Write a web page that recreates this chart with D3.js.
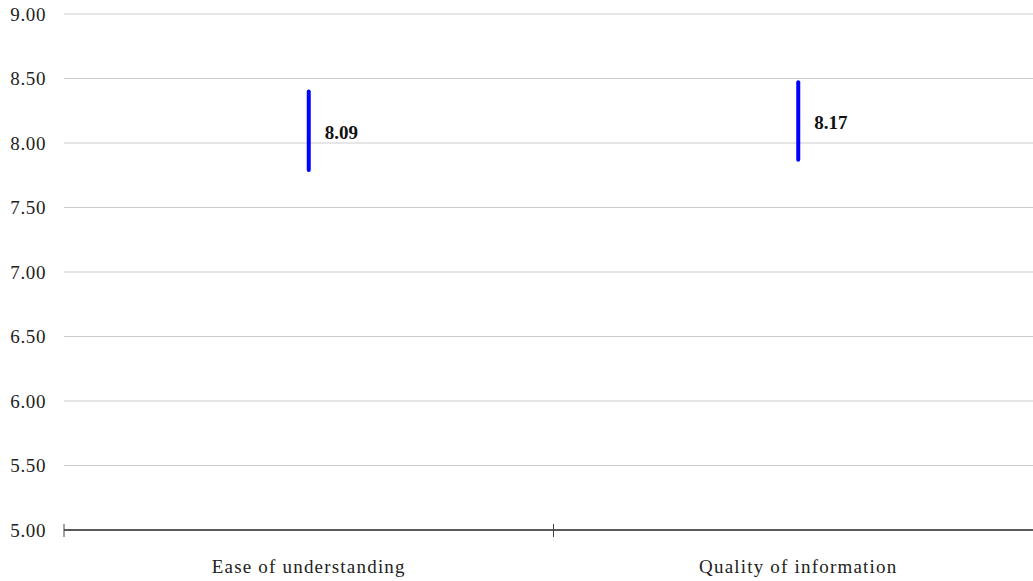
<!DOCTYPE html>
<html>
<head>
<meta charset="utf-8">
<script src="https://cdn.jsdelivr.net/npm/d3@7"></script>
<style>
  html, body { margin: 0; padding: 0; background: #fff; }
  svg { display: block; }
</style>
</head>
<body>
<svg id="chart" width="1033" height="581"></svg>
<script>
// Survey ratings: mean with interval range for each item
const categories = ["Ease of understanding", "Quality of information"];
const means = [8.09, 8.17];
const lows = [7.79, 7.87];
const highs = [8.40, 8.47];
const yTicks = [5.0, 5.5, 6.0, 6.5, 7.0, 7.5, 8.0, 8.5, 9.0];

(function () {
  const svg = d3.select("#chart");
  const plotLeft = 64, plotRight = 1043, plotTop = 14, plotBottom = 530;
  const serif = "'Liberation Serif', 'Times New Roman', serif";

  const x = d3.scaleBand().domain(categories).range([plotLeft, plotRight]).padding(0);
  const y = d3.scaleLinear().domain([5, 9]).range([plotBottom, plotTop]);

  // horizontal gridlines
  svg.append("g")
    .selectAll("line")
    .data(yTicks.filter(t => t > 5))
    .join("line")
    .attr("x1", plotLeft).attr("x2", 1033)
    .attr("y1", d => y(d)).attr("y2", d => y(d))
    .attr("stroke", "#cccccc").attr("stroke-width", 1);

  // y tick labels
  svg.append("g")
    .selectAll("text")
    .data(yTicks)
    .join("text")
    .attr("x", 46)
    .attr("y", d => y(d))
    .attr("dy", "0.35em")
    .attr("text-anchor", "end")
    .attr("font-family", serif)
    .attr("font-size", 19)
    .attr("letter-spacing", 0.6)
    .attr("fill", "#222")
    .text(d => d.toFixed(2));

  // x axis baseline and ticks
  svg.append("line")
    .attr("x1", plotLeft).attr("x2", 1033)
    .attr("y1", plotBottom).attr("y2", plotBottom)
    .attr("stroke", "#222").attr("stroke-width", 1.4);

  const boundaries = [plotLeft, x(categories[1])];
  svg.append("g")
    .selectAll("line")
    .data(boundaries)
    .join("line")
    .attr("x1", d => d).attr("x2", d => d)
    .attr("y1", plotBottom - 6).attr("y2", plotBottom + 7)
    .attr("stroke", "#444").attr("stroke-width", 1);

  // category labels
  svg.append("g")
    .selectAll("text")
    .data(categories)
    .join("text")
    .attr("x", d => x(d) + x.bandwidth() / 2)
    .attr("y", 573)
    .attr("text-anchor", "middle")
    .attr("font-family", serif)
    .attr("font-size", 19)
    .attr("letter-spacing", 1.2)
    .attr("fill", "#222")
    .text(d => d);

  // interval bars
  const data = categories.map((c, i) => ({ c, mean: means[i], low: lows[i], high: highs[i] }));
  svg.append("g")
    .selectAll("line")
    .data(data)
    .join("line")
    .attr("x1", d => x(d.c) + x.bandwidth() / 2)
    .attr("x2", d => x(d.c) + x.bandwidth() / 2)
    .attr("y1", d => y(d.low))
    .attr("y2", d => y(d.high))
    .attr("stroke", "#0000ff")
    .attr("stroke-width", 4)
    .attr("stroke-linecap", "round");

  // mean value labels
  svg.append("g")
    .selectAll("text")
    .data(data)
    .join("text")
    .attr("x", d => x(d.c) + x.bandwidth() / 2 + 16)
    .attr("y", d => y(d.mean))
    .attr("dy", "0.4em")
    .attr("font-family", serif)
    .attr("font-size", 19)
    .attr("font-weight", "bold")
    .attr("fill", "#111")
    .text(d => d.mean.toFixed(2));
})();
</script>
</body>
</html>
